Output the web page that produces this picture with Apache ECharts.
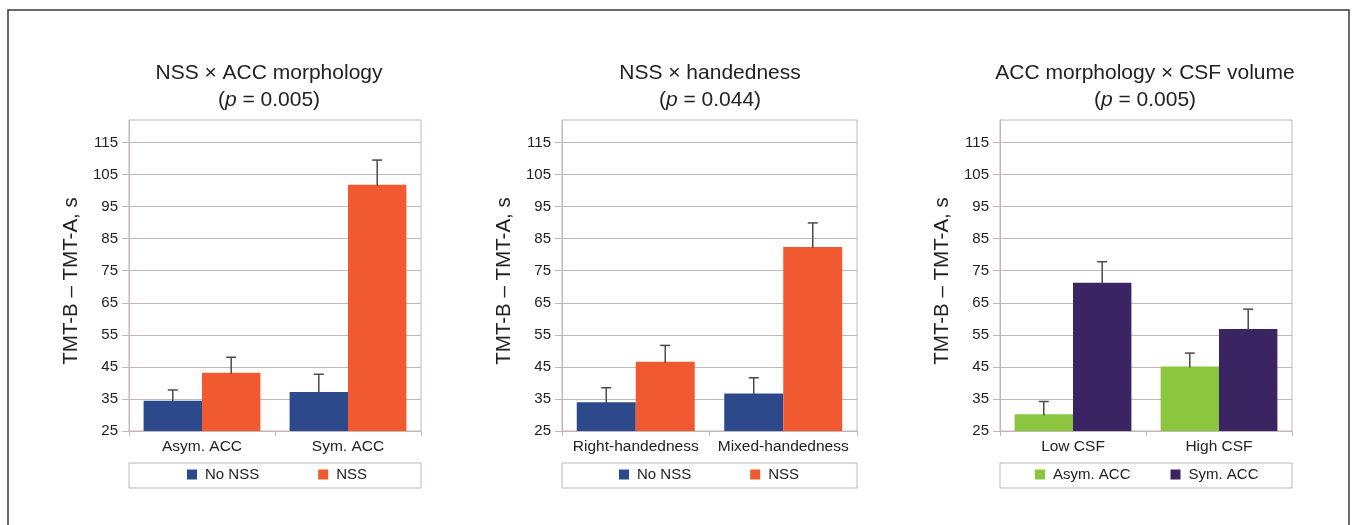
<!DOCTYPE html>
<html>
<head>
<meta charset="utf-8">
<script src="https://cdn.jsdelivr.net/npm/echarts@6/dist/echarts.min.js"></script>
<style>
html,body{margin:0;padding:0;background:#fff;}
#chart{width:1355px;height:525px;}
</style>
</head>
<body>
<div id="chart"></div>
<script>
// ---- data ----
const titles = ['NSS \u00d7 ACC morphology', 'NSS \u00d7 handedness', 'ACC morphology \u00d7 CSF volume'];
const pValues = ['0.005', '0.044', '0.005'];
const yAxisTitle = 'TMT-B \u2013 TMT-A, s';
const yTicks = [25, 35, 45, 55, 65, 75, 85, 95, 105, 115];

const categories1 = ['Asym. ACC', 'Sym. ACC'];
const categories2 = ['Right-handedness', 'Mixed-handedness'];
const categories3 = ['Low CSF', 'High CSF'];

const seriesNames1 = ['No NSS', 'NSS'];
const seriesNames2 = ['No NSS', 'NSS'];
const seriesNames3 = ['Asym. ACC', 'Sym. ACC'];

// panel 1: NSS x ACC morphology
const noNss1 = [34.4, 37.2];
const noNss1Err = [3.4, 5.5];
const nss1 = [43.2, 101.8];
const nss1Err = [4.8, 7.7];
// panel 2: NSS x handedness
const noNss2 = [34.0, 36.7];
const noNss2Err = [4.5, 4.9];
const nss2 = [46.6, 82.4];
const nss2Err = [5.1, 7.5];
// panel 3: ACC morphology x CSF volume
const asym3 = [30.2, 45.1];
const asym3Err = [4.0, 4.2];
const sym3 = [71.2, 56.8];
const sym3Err = [6.6, 6.2];

// ---- styling ----
const gridC = '#c4b6b6';
const textC = '#222';
const fontFam = '"Liberation Sans", Arial, Helvetica, sans-serif';
const colNavy = '#2c4a8b';
const colOrange = '#f15a30';
const colGreen = '#8cc63f';
const colPurple = '#3a2562';

const grids = [
  {left: 129, top: 120, width: 292, height: 311},
  {left: 562, top: 120, width: 295, height: 311},
  {left: 1000, top: 120, width: 292, height: 311}
];
const titleCenters = [269, 710, 1145];

const panels = [
  {cats: categories1, names: seriesNames1, vals: [noNss1, nss1], errs: [noNss1Err, nss1Err], colors: [colNavy, colOrange], legendLeft: 58, legendGap: 59},
  {cats: categories2, names: seriesNames2, vals: [noNss2, nss2], errs: [noNss2Err, nss2Err], colors: [colNavy, colOrange], legendLeft: 57, legendGap: 59},
  {cats: categories3, names: seriesNames3, vals: [asym3, sym3], errs: [asym3Err, sym3Err], colors: [colGreen, colPurple], legendLeft: 35, legendGap: 40}
];

function errRenderer(offsetFrac) {
  return function (params, api) {
    const c = api.value(0), m = api.value(1), e = api.value(2);
    const base = api.coord([c, m]);
    const top = api.coord([c, m + e]);
    const bw = api.size([1, 0])[0];
    const cx = base[0] + offsetFrac * bw;
    const style = {stroke: '#4a4a4a', lineWidth: 1.5};
    return {
      type: 'group',
      children: [
        {type: 'line', shape: {x1: cx, y1: base[1] + 1, x2: cx, y2: top[1]}, style: style},
        {type: 'line', shape: {x1: cx - 5, y1: top[1], x2: cx + 5, y2: top[1]}, style: style}
      ]
    };
  };
}

const option = {
  backgroundColor: '#fff',
  animation: false,
  textStyle: {fontFamily: fontFam},
  grid: [], xAxis: [], yAxis: [], series: [], legend: [], graphic: []
};

option.graphic.push({type: 'rect', shape: {x: 8, y: 10, width: 1341, height: 540}, style: {fill: 'none', stroke: '#3a3a3a', lineWidth: 1.5}, silent: true});

panels.forEach((p, i) => {
  const g = grids[i];
  option.grid.push({left: g.left, top: g.top, width: g.width, height: g.height, show: true, borderColor: gridC, borderWidth: 1, backgroundColor: 'transparent'});
  option.xAxis.push({
    type: 'category', gridIndex: i, data: p.cats,
    axisLine: {show: true, lineStyle: {color: gridC}},
    axisTick: {show: true, length: 5, lineStyle: {color: gridC}},
    axisLabel: {fontSize: 15.5, color: textC, margin: 8, fontFamily: fontFam, interval: 0, hideOverlap: false},
    splitLine: {show: false}
  });
  option.yAxis.push({
    type: 'value', gridIndex: i, min: 25, max: 122, interval: 10,
    axisLine: {show: true, lineStyle: {color: gridC}},
    axisTick: {show: true, length: 7, lineStyle: {color: gridC}, customValues: yTicks},
    splitLine: {show: true, lineStyle: {color: gridC, width: 1}},
    axisLabel: {fontSize: 15, color: textC, margin: 11, fontFamily: fontFam,
      formatter: v => (yTicks.indexOf(v) >= 0 ? String(v) : '')},
    name: yAxisTitle, nameLocation: 'middle', nameGap: 47,
    nameTextStyle: {fontSize: 20.5, color: textC, fontFamily: fontFam, padding: [0, 11, 0, 0]}
  });
  p.names.forEach((nm, k) => {
    option.series.push({
      type: 'bar', name: nm, xAxisIndex: i, yAxisIndex: i,
      data: p.vals[k], barGap: '0%', barCategoryGap: '20%',
      itemStyle: {color: p.colors[k]}, z: 2
    });
  });
  p.names.forEach((nm, k) => {
    option.series.push({
      type: 'custom', name: nm + ' error', xAxisIndex: i, yAxisIndex: i,
      renderItem: errRenderer(k === 0 ? -0.2 : 0.2),
      data: p.vals[k].map((v, j) => [j, v, p.errs[k][j]]),
      encode: {x: 0, y: 1}, z: 5, silent: true
    });
  });
  option.legend.push({
    data: p.names.map(n => ({name: n, icon: 'rect', itemStyle: {color: p.colors[p.names.indexOf(n)]}})),
    left: g.left + p.legendLeft, top: 467, itemWidth: 10, itemHeight: 10, itemGap: p.legendGap,
    selectedMode: false, padding: 0,
    textStyle: {fontSize: 15, color: textC, fontFamily: fontFam, padding: [0, 0, 0, 3]}
  });
  option.graphic.push({type: 'rect', shape: {x: g.left, y: 463, width: g.width, height: 25}, style: {fill: 'none', stroke: gridC, lineWidth: 1}, silent: true});
  option.graphic.push({
    type: 'text', x: titleCenters[i], y: 73, silent: true,
    style: {text: titles[i], textAlign: 'center', textVerticalAlign: 'middle', fontSize: 21, fill: textC, fontFamily: fontFam}
  });
  option.graphic.push({
    type: 'text', x: titleCenters[i], y: 100, silent: true,
    style: {
      text: '{a|(}{i|p}{a| = ' + pValues[i] + ')}', textAlign: 'center', textVerticalAlign: 'middle',
      fill: textC, fontSize: 21, fontFamily: fontFam,
      rich: {a: {fontSize: 21, fill: textC, fontFamily: fontFam}, i: {fontSize: 21, fontStyle: 'italic', fill: textC, fontFamily: fontFam}}
    }
  });
});

const chart = echarts.init(document.getElementById('chart'), null, {renderer: 'canvas'});
chart.setOption(option);
</script>
</body>
</html>
